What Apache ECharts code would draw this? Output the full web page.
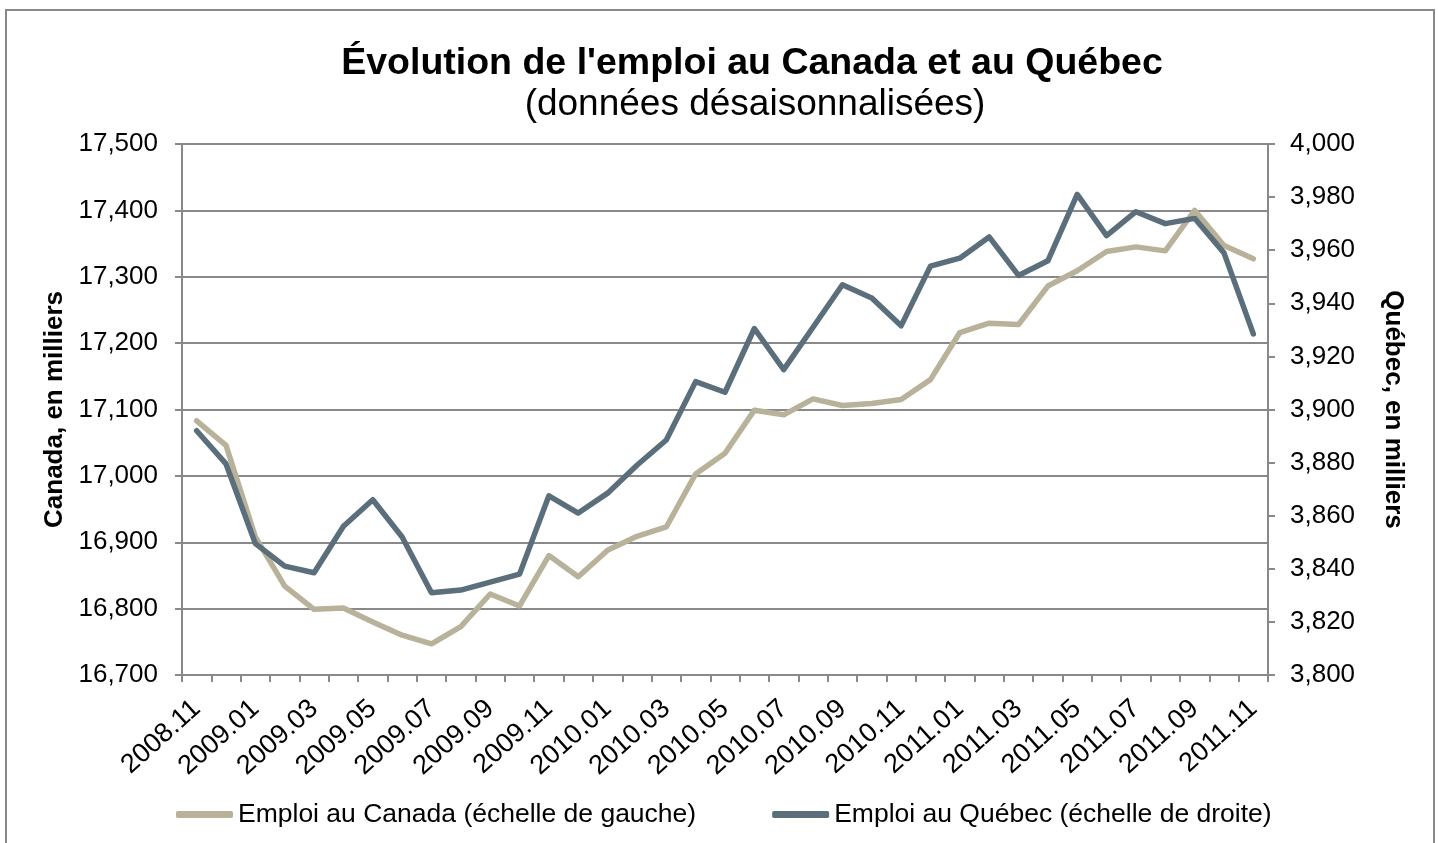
<!DOCTYPE html>
<html>
<head>
<meta charset="utf-8">
<title>Évolution de l'emploi au Canada et au Québec</title>
<script src="https://cdn.jsdelivr.net/npm/echarts@6/dist/echarts.min.js"></script>
<style>
    html, body { margin: 0; padding: 0; background: #ffffff; }
    #chart { width: 1438px; height: 843px; }
</style>
</head>
<body>
<div id="chart"></div>
<script>
///////////////////////////////
// données
var months = ['2008.11', '2008.12', '2009.01', '2009.02', '2009.03', '2009.04', '2009.05', '2009.06',
    '2009.07', '2009.08', '2009.09', '2009.10', '2009.11', '2009.12', '2010.01', '2010.02', '2010.03',
    '2010.04', '2010.05', '2010.06', '2010.07', '2010.08', '2010.09', '2010.10', '2010.11', '2010.12',
    '2011.01', '2011.02', '2011.03', '2011.04', '2011.05', '2011.06', '2011.07', '2011.08', '2011.09',
    '2011.10', '2011.11'];

var emploiCanada = [17083, 17046, 16908, 16834, 16799, 16801, 16780, 16760, 16747, 16773, 16822, 16804,
    16880, 16848, 16888, 16909, 16923, 17003, 17034, 17099, 17092, 17116, 17106, 17109, 17115, 17145,
    17216, 17230, 17228, 17286, 17309, 17338, 17345, 17339, 17400, 17347, 17327];

var emploiQuebec = [3892, 3879.5, 3849.5, 3841, 3838.5, 3856, 3866, 3852, 3831, 3832, 3835, 3838,
    3867.5, 3861, 3868.5, 3879, 3888.5, 3910.5, 3906.5, 3930.5, 3915, 3931, 3947, 3942, 3931.5, 3954,
    3957, 3965, 3950.5, 3956, 3981, 3965.5, 3974.5, 3970, 3972, 3959, 3928.5];

var nomCanada = 'Emploi au Canada (échelle de gauche)';
var nomQuebec = 'Emploi au Québec (échelle de droite)';

var couleurCanada = '#B9B29A';
var couleurQuebec = '#5A6E7B';
var gris = '#898989';
var police = 'Liberation Sans, Arial, sans-serif';

function milliers(v) {
    return String(v).replace(/\B(?=(\d{3})+(?!\d))/g, ',');
}

///////////////////////////////
function getEmploiOpt() {
    var opt = {
        animation: false,
        backgroundColor: '#ffffff',
        textStyle: {
            fontFamily: police
        },
        graphic: [{
            type: 'rect',
            shape: { x: 6, y: 10, width: 1428, height: 860 },
            style: { fill: 'none', stroke: gris, lineWidth: 2 },
            silent: true
        }],
        title: [{
            text: "Évolution de l'emploi au Canada et au Québec",
            left: 747,
            top: 40,
            textAlign: 'center',
            textStyle: {
                fontFamily: police,
                fontWeight: 'bold',
                fontSize: 37.5,
                color: '#000'
            }
        }, {
            text: '(données désaisonnalisées)',
            left: 750,
            top: 81,
            textAlign: 'center',
            textStyle: {
                fontFamily: police,
                fontWeight: 'normal',
                fontSize: 37,
                color: '#000'
            }
        }],
        legend: {
            left: 176,
            top: 801,
            padding: 0,
            icon: 'roundRect',
            itemWidth: 57,
            itemHeight: 7,
            itemGap: 76,
            textStyle: {
                fontFamily: police,
                fontSize: 26.5,
                color: '#000'
            },
            data: [nomCanada, nomQuebec]
        },
        grid: {
            left: 182,
            right: 170,
            top: 144,
            bottom: 168,
            containLabel: false
        },
        xAxis: {
            type: 'category',
            data: months,
            boundaryGap: true,
            axisLine: { lineStyle: { color: gris, width: 2 } },
            axisTick: { show: true, interval: 0, length: 7, lineStyle: { color: gris, width: 2 } },
            axisLabel: {
                interval: 1,
                rotate: 42,
                margin: 30,
                fontFamily: police,
                fontSize: 27,
                color: '#000'
            },
            splitLine: { show: false }
        },
        yAxis: [{
            type: 'value',
            position: 'left',
            min: 16700,
            max: 17500,
            interval: 100,
            name: 'Canada, en milliers',
            nameLocation: 'middle',
            nameRotate: 90,
            nameGap: 114,
            nameTextStyle: {
                fontFamily: police,
                fontWeight: 'bold',
                fontSize: 26,
                color: '#000'
            },
            axisLine: { show: true, lineStyle: { color: gris, width: 2 } },
            axisTick: { show: true, length: 7, lineStyle: { color: gris, width: 2 } },
            axisLabel: {
                margin: 24,
                fontFamily: police,
                fontSize: 26,
                color: '#000',
                formatter: milliers
            },
            splitLine: { show: true, lineStyle: { color: gris, width: 2 } }
        }, {
            type: 'value',
            position: 'right',
            min: 3800,
            max: 4000,
            interval: 20,
            name: 'Québec, en milliers',
            nameLocation: 'middle',
            nameRotate: -90,
            nameGap: 112,
            nameTextStyle: {
                fontFamily: police,
                fontWeight: 'bold',
                fontSize: 26,
                color: '#000'
            },
            axisLine: { show: true, lineStyle: { color: gris, width: 2 } },
            axisTick: { show: true, length: 7, lineStyle: { color: gris, width: 2 } },
            axisLabel: {
                margin: 22,
                fontFamily: police,
                fontSize: 26,
                color: '#000',
                formatter: milliers
            },
            splitLine: { show: false }
        }],
        series: [{
            name: nomCanada,
            type: 'line',
            yAxisIndex: 0,
            symbol: 'none',
            color: couleurCanada,
            lineStyle: { color: couleurCanada, width: 5.5, cap: 'round', join: 'round' },
            data: emploiCanada
        }, {
            name: nomQuebec,
            type: 'line',
            yAxisIndex: 1,
            symbol: 'none',
            color: couleurQuebec,
            lineStyle: { color: couleurQuebec, width: 5.5, cap: 'round', join: 'round' },
            data: emploiQuebec
        }]
    };
    return opt;
}

var emploiChart = echarts.init(document.getElementById('chart'), null, { renderer: 'canvas' });
emploiChart.setOption(getEmploiOpt());
</script>
</body>
</html>
